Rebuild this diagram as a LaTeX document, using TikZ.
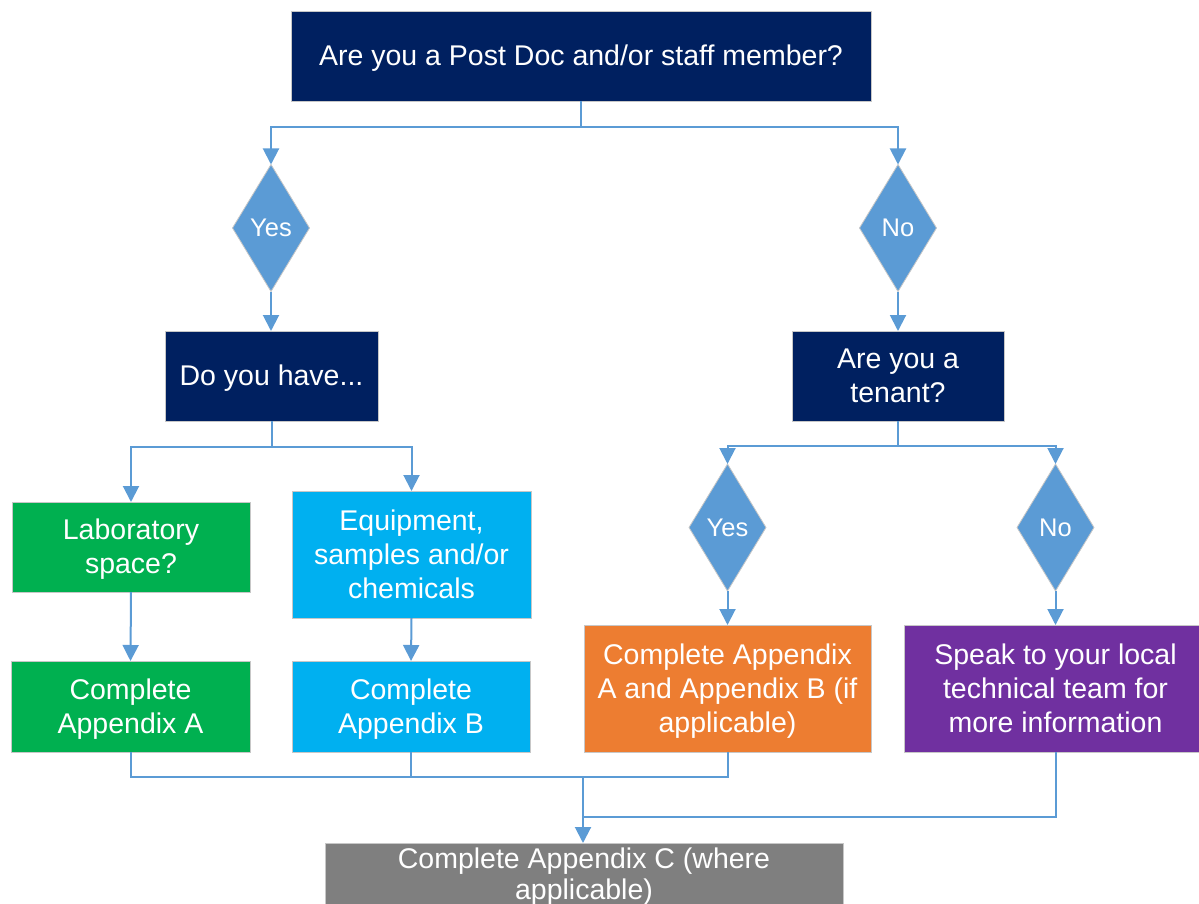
\documentclass[tikz,border=0pt]{standalone}
\usepackage{fontspec}
\setmainfont{Liberation Sans}
\usepackage{tikz}
\usetikzlibrary{shapes.geometric, arrows.meta, positioning}
\definecolor{navyblue}{RGB}{0,32,96}
\definecolor{choiceblue}{RGB}{91,155,213}
\definecolor{labgreen}{RGB}{0,176,80}
\definecolor{equipblue}{RGB}{0,176,240}
\definecolor{apporange}{RGB}{237,125,49}
\definecolor{localpurple}{RGB}{112,48,160}
\definecolor{appgray}{RGB}{127,127,127}
\newcommand{\boxlines}[2][30pt]{\begin{tabular}{@{}c@{}}\rule{0pt}{#1}#2\end{tabular}}

\begin{document}
\begin{tikzpicture}[
    x=1pt, y=-1pt,
    box/.style={draw=black!22, line width=0.8pt, fill=navyblue, text=white, inner sep=0pt, outer sep=0pt, font=\fontsize{28.5}{34}\selectfont},
    decision/.style={diamond, draw=black!22, line width=0.8pt, fill=choiceblue, text=white, minimum width=77pt, minimum height=127pt, inner sep=0pt, outer sep=0pt, font=\fontsize{25.5}{30}\selectfont},
    link/.style={draw=choiceblue, line width=2pt},
    flow/.style={link, -{Triangle[length=16pt,width=16pt]}}
]
    \useasboundingbox (0,0) rectangle (1199,904);
    \clip (0,0) rectangle (1199,904);

    % Questions
    \node[box, minimum width=580pt, minimum height=90pt] (staff) at (581,56) {\boxlines{Are you a Post Doc and/or staff member?}};
    \node[decision] (yesA) at (271,228) {Yes};
    \node[decision] (noA) at (898,228) {No};
    \node[box, minimum width=213pt, minimum height=90pt] (have) at (271.5,376) {\boxlines{Do you have...}};
    \node[box, minimum width=212pt, minimum height=90pt] (tenant) at (898,376) {\boxlines{Are you a\\tenant?}};

    % Post Doc / staff branch
    \node[box, fill=labgreen, minimum width=238pt, minimum height=90pt] (lab) at (131,547) {\boxlines{Laboratory\\space?}};
    \node[box, fill=equipblue, minimum width=239pt, minimum height=127pt] (equip) at (411.5,554.5) {\boxlines{Equipment,\\samples and/or\\chemicals}};
    \node[box, fill=labgreen, minimum width=239pt, minimum height=91pt] (appA) at (130.5,706.5) {\boxlines{Complete\\Appendix A}};
    \node[box, fill=equipblue, minimum width=238pt, minimum height=91pt] (appB) at (411,706.5) {\boxlines{Complete\\Appendix B}};

    % Tenant branch
    \node[decision] (yesB) at (727.5,527.5) {Yes};
    \node[decision] (noB) at (1055.5,527.5) {No};
    \node[box, fill=apporange, minimum width=287pt, minimum height=127pt] (appAB) at (727.5,688.5) {\boxlines{Complete Appendix\\A and Appendix B (if\\applicable)}};
    \node[box, fill=localpurple, minimum width=303pt, minimum height=127pt] (local) at (1055.5,688.5) {\boxlines{Speak to your local\\technical team for\\more information}};

    % Final step
    \node[box, fill=appgray, minimum width=518pt, minimum height=70pt, font=\fontsize{28.5}{31}\selectfont] (appC) at (584,878) {\boxlines[0pt]{Complete Appendix C (where\\applicable)}};

    % Connectors
    \coordinate (splitA) at (581,127);
    \draw[link] (staff.south) -- (splitA);
    \draw[flow] (splitA) -| (yesA.north);
    \draw[flow] (splitA) -| (noA.north);
    \draw[flow] (yesA.south) -- (have.north -| yesA.south);
    \draw[flow] (noA.south) -- (tenant.north);

    \coordinate (splitB) at (271.5,447);
    \draw[link] (have.south) -- (splitB);
    \draw[flow] (splitB) -| (lab.north);
    \draw[flow] (splitB) -| (equip.north);
    \draw[flow] (lab.south) -- (appA.north);
    \draw[flow] (equip.south) -- (appB.north);

    \coordinate (splitC) at (898,446);
    \draw[link] (tenant.south) -- (splitC);
    \draw[flow] (splitC) -| (yesB.north);
    \draw[flow] (splitC) -| (noB.north);
    \draw[flow] (yesB.south) -- (appAB.north);
    \draw[flow] (noB.south) -- (local.north);

    \coordinate (joinA) at (583,777);
    \coordinate (joinB) at (583,817);
    \draw[link] (appA.south) |- (joinA) -| (appAB.south);
    \draw[link] (appB.south) -- (appB.south |- joinA);
    \draw[link] (local.south) |- (joinB);
    \draw[flow] (joinA) -- (appC.north -| joinA);
\end{tikzpicture}
\end{document}
